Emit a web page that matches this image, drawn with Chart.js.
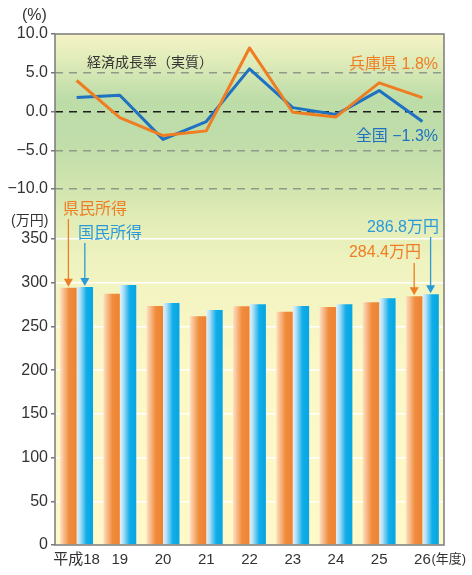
<!DOCTYPE html>
<html>
<head>
<meta charset="utf-8">
<script src="https://cdn.jsdelivr.net/npm/chart.js@4"></script>
<style>
  body { margin: 0; background: #fff; }
  #wrap { width: 472px; height: 575px; }
</style>
</head>
<body>
<div id="wrap"><canvas id="myChart" width="472" height="575"></canvas></div>
<script>
// data
const years = ['平成18', '19', '20', '21', '22', '23', '24', '25', '26'];
const hyogoRate = [4.0, -0.8, -3.1, -2.5, 8.2, -0.1, -0.7, 3.7, 1.8];
const zenkokuRate = [1.8, 2.1, -3.6, -1.3, 5.5, 0.5, -0.4, 2.7, -1.3];
const kenminIncome = [294.3, 287.5, 273.4, 261.5, 273.0, 266.9, 272.2, 277.6, 284.4];
const kokuminIncome = [295.1, 297.4, 276.8, 268.8, 275.3, 273.4, 275.3, 282.2, 286.8];
const rateTicks = [10, 5, 0, -5, -10];
const incomeTicks = [0, 50, 100, 150, 200, 250, 300, 350];

const jp = '"Liberation Sans", "Noto Sans CJK JP", sans-serif';
const textColor = '#333333';
const orange = '#ef7d22';
const blue = '#1f72c2';
const cyan = '#2a9ad9';
const barShare = 0.76;

//fill of one bar, light on the left side
function barFill(c, stops, side) {
  const chart = c.chart;
  const xs = chart.scales.x;
  if (!chart.chartArea || !xs || c.dataIndex === undefined) return stops[stops.length - 1][1];
  const cat = xs.width / years.length;
  const bw = cat * barShare / 2;
  const left = xs.getPixelForValue(c.dataIndex) + side * bw;
  const g = chart.ctx.createLinearGradient(left, 0, left + bw, 0);
  stops.forEach(s => g.addColorStop(s[0], s[1]));
  return g;
}

const orangeStops = [[0, '#fde0c2'], [0.2, '#f9c193'], [0.55, '#f08c3d'], [1, '#ee8232']];
const blueStops = [[0, '#dff2fc'], [0.2, '#b5e1f7'], [0.6, '#10ade9'], [1, '#05a6e3']];

//background and frame
const panelBack = {
  id: 'panelBack',
  beforeDraw(chart) {
    const a = chart.chartArea;
    const ctx = chart.ctx;
    const h = a.bottom - a.top;
    const g = ctx.createLinearGradient(0, a.top, 0, a.bottom);
    g.addColorStop(0, '#f6f3c6');
    g.addColorStop(26 / h, '#e0ecba');
    g.addColorStop(66 / h, '#bcdca8');
    g.addColorStop(110 / h, '#c0ddaa');
    g.addColorStop(160 / h, '#d4e6b0');
    g.addColorStop(185 / h, '#e2ecb6');
    g.addColorStop(230 / h, '#eff3c0');
    g.addColorStop(320 / h, '#fbf7c6');
    g.addColorStop(1, '#fff8c8');
    ctx.save();
    ctx.fillStyle = g;
    ctx.fillRect(a.left, a.top, a.right - a.left, h);
    ctx.restore();
  },
  afterDraw(chart) {
    const a = chart.chartArea;
    const ctx = chart.ctx;
    ctx.save();
    ctx.strokeStyle = '#7b7b7b';
    ctx.lineWidth = 1.5;
    ctx.strokeRect(a.left, a.top, a.right - a.left, a.bottom - a.top);
    ctx.restore();
  }
};

function arrow(ctx, x, y1, y2, color) {
  ctx.strokeStyle = color;
  ctx.fillStyle = color;
  ctx.lineWidth = 1.3;
  ctx.beginPath();
  ctx.moveTo(x, y1);
  ctx.lineTo(x, y2 - 6);
  ctx.stroke();
  ctx.beginPath();
  ctx.moveTo(x - 4.5, y2 - 8);
  ctx.lineTo(x + 4.5, y2 - 8);
  ctx.lineTo(x, y2);
  ctx.closePath();
  ctx.fill();
}

function txt(ctx, s, x, y, color, size, align) {
  ctx.fillStyle = color;
  ctx.font = size + 'px ' + jp;
  ctx.textAlign = align || 'left';
  ctx.textBaseline = 'middle';
  ctx.fillText(s, x, y);
}

//labels, arrows
const notes = {
  id: 'notes',
  afterDraw(chart) {
    const ctx = chart.ctx;
    const xs = chart.scales.x;
    const yi = chart.scales.yInc;
    const bw = xs.width / years.length * barShare / 2;
    const last = years.length - 1;
    ctx.save();
    txt(ctx, '(%)', 22, 16, textColor, 16);
    txt(ctx, '(万円)', 11, 221, textColor, 14);
    txt(ctx, '経済成長率（実質）', 87, 63, textColor, 14);
    txt(ctx, '兵庫県 1.8%', 438, 65, orange, 16, 'right');
    txt(ctx, '全国 −1.3%', 438, 137, blue, 16, 'right');
    txt(ctx, '県民所得', 63, 210, orange, 16);
    txt(ctx, '国民所得', 78, 234, cyan, 16);
    txt(ctx, '286.8万円', 439, 228, cyan, 16, 'right');
    txt(ctx, '284.4万円', 421, 253, orange, 16, 'right');

    const x0 = xs.getPixelForValue(0);
    const x8 = xs.getPixelForValue(last);
    arrow(ctx, x0 - bw / 2, 219, yi.getPixelForValue(kenminIncome[0]) - 1, orange);
    arrow(ctx, x0 + bw / 2, 243, yi.getPixelForValue(kokuminIncome[0]) - 1, cyan);
    arrow(ctx, x8 + bw / 2, 237, yi.getPixelForValue(kokuminIncome[last]) - 1, cyan);
    arrow(ctx, x8 - bw / 2, 263, yi.getPixelForValue(kenminIncome[last]) - 1, orange);

    //year unit after the last tick
    txt(ctx, '(年度)', x8 + 9, 559, textColor, 13);
    ctx.restore();
  }
};

// split of the frame: growth panel on top, income panel below
const areaTop = 34, areaBottom = 545, split = 214;
const rateMin = 10 - (split - areaTop) / 7.75;

const data = {
  labels: years,
  datasets: [
    {
      type: 'line', label: '兵庫県', data: hyogoRate, yAxisID: 'yRate',
      borderColor: orange, borderWidth: 3, pointRadius: 0, tension: 0,
      borderJoinStyle: 'round'
    },
    {
      type: 'line', label: '全国', data: zenkokuRate, yAxisID: 'yRate',
      borderColor: blue, borderWidth: 3, pointRadius: 0, tension: 0,
      borderJoinStyle: 'round'
    },
    {
      type: 'bar', label: '県民所得', data: kenminIncome, yAxisID: 'yInc',
      backgroundColor: c => barFill(c, orangeStops, -1),
      categoryPercentage: barShare, barPercentage: 1
    },
    {
      type: 'bar', label: '国民所得', data: kokuminIncome, yAxisID: 'yInc',
      backgroundColor: c => barFill(c, blueStops, 0),
      categoryPercentage: barShare, barPercentage: 1
    }
  ]
};

const config = {
  type: 'bar',
  data: data,
  options: {
    responsive: false,
    animation: false,
    layout: { padding: { top: areaTop, right: 28, left: 0, bottom: 0 } },
    plugins: {
      legend: { display: false },
      tooltip: { enabled: false }
    },
    scales: {
      // stacked axes are placed from the bottom up, so income comes first
      yInc: {
        type: 'linear', position: 'left', stack: 'main', stackWeight: areaBottom - split,
        min: 0, max: (areaBottom - split) / 0.8743,
        afterBuildTicks: s => { s.ticks = incomeTicks.map(v => ({ value: v })); },
        afterFit: s => { s.width = 55; },
        ticks: { padding: 3, color: textColor, font: { family: jp, size: 16 } },
        grid: {
          lineWidth: 1.5, tickLength: 4, tickColor: '#777',
          color: c => c.tick.value === 0 ? 'rgba(0,0,0,0)' : '#ffffff'
        },
        border: { display: false }
      },
      yRate: {
        type: 'linear', position: 'left', stack: 'main', stackWeight: split - areaTop,
        min: rateMin, max: 10,
        afterBuildTicks: s => { s.ticks = rateTicks.map(v => ({ value: v })); },
        afterFit: s => { s.width = 55; },
        ticks: {
          padding: 3, color: textColor, font: { family: jp, size: 16 },
          callback: v => v.toFixed(1).replace('-', '−')
        },
        grid: {
          lineWidth: 1.5, tickLength: 4, tickColor: '#777',
          color: c => c.tick.value === 10 ? 'rgba(0,0,0,0)' : (c.tick.value === 0 ? '#1e1e1e' : '#8f9a88')
        },
        border: { display: false, dash: [8, 6] }
      },
      x: {
        afterFit: s => { s.height = 575 - areaBottom; },
        grid: { display: false, drawTicks: false },
        border: { display: false },
        ticks: {
          padding: 6, color: textColor, font: { family: jp, size: 15 },
          maxRotation: 0, autoSkip: false
        }
      }
    }
  },
  plugins: [panelBack, notes]
};

const myChart = new Chart(document.getElementById('myChart'), config);
</script>
</body>
</html>
